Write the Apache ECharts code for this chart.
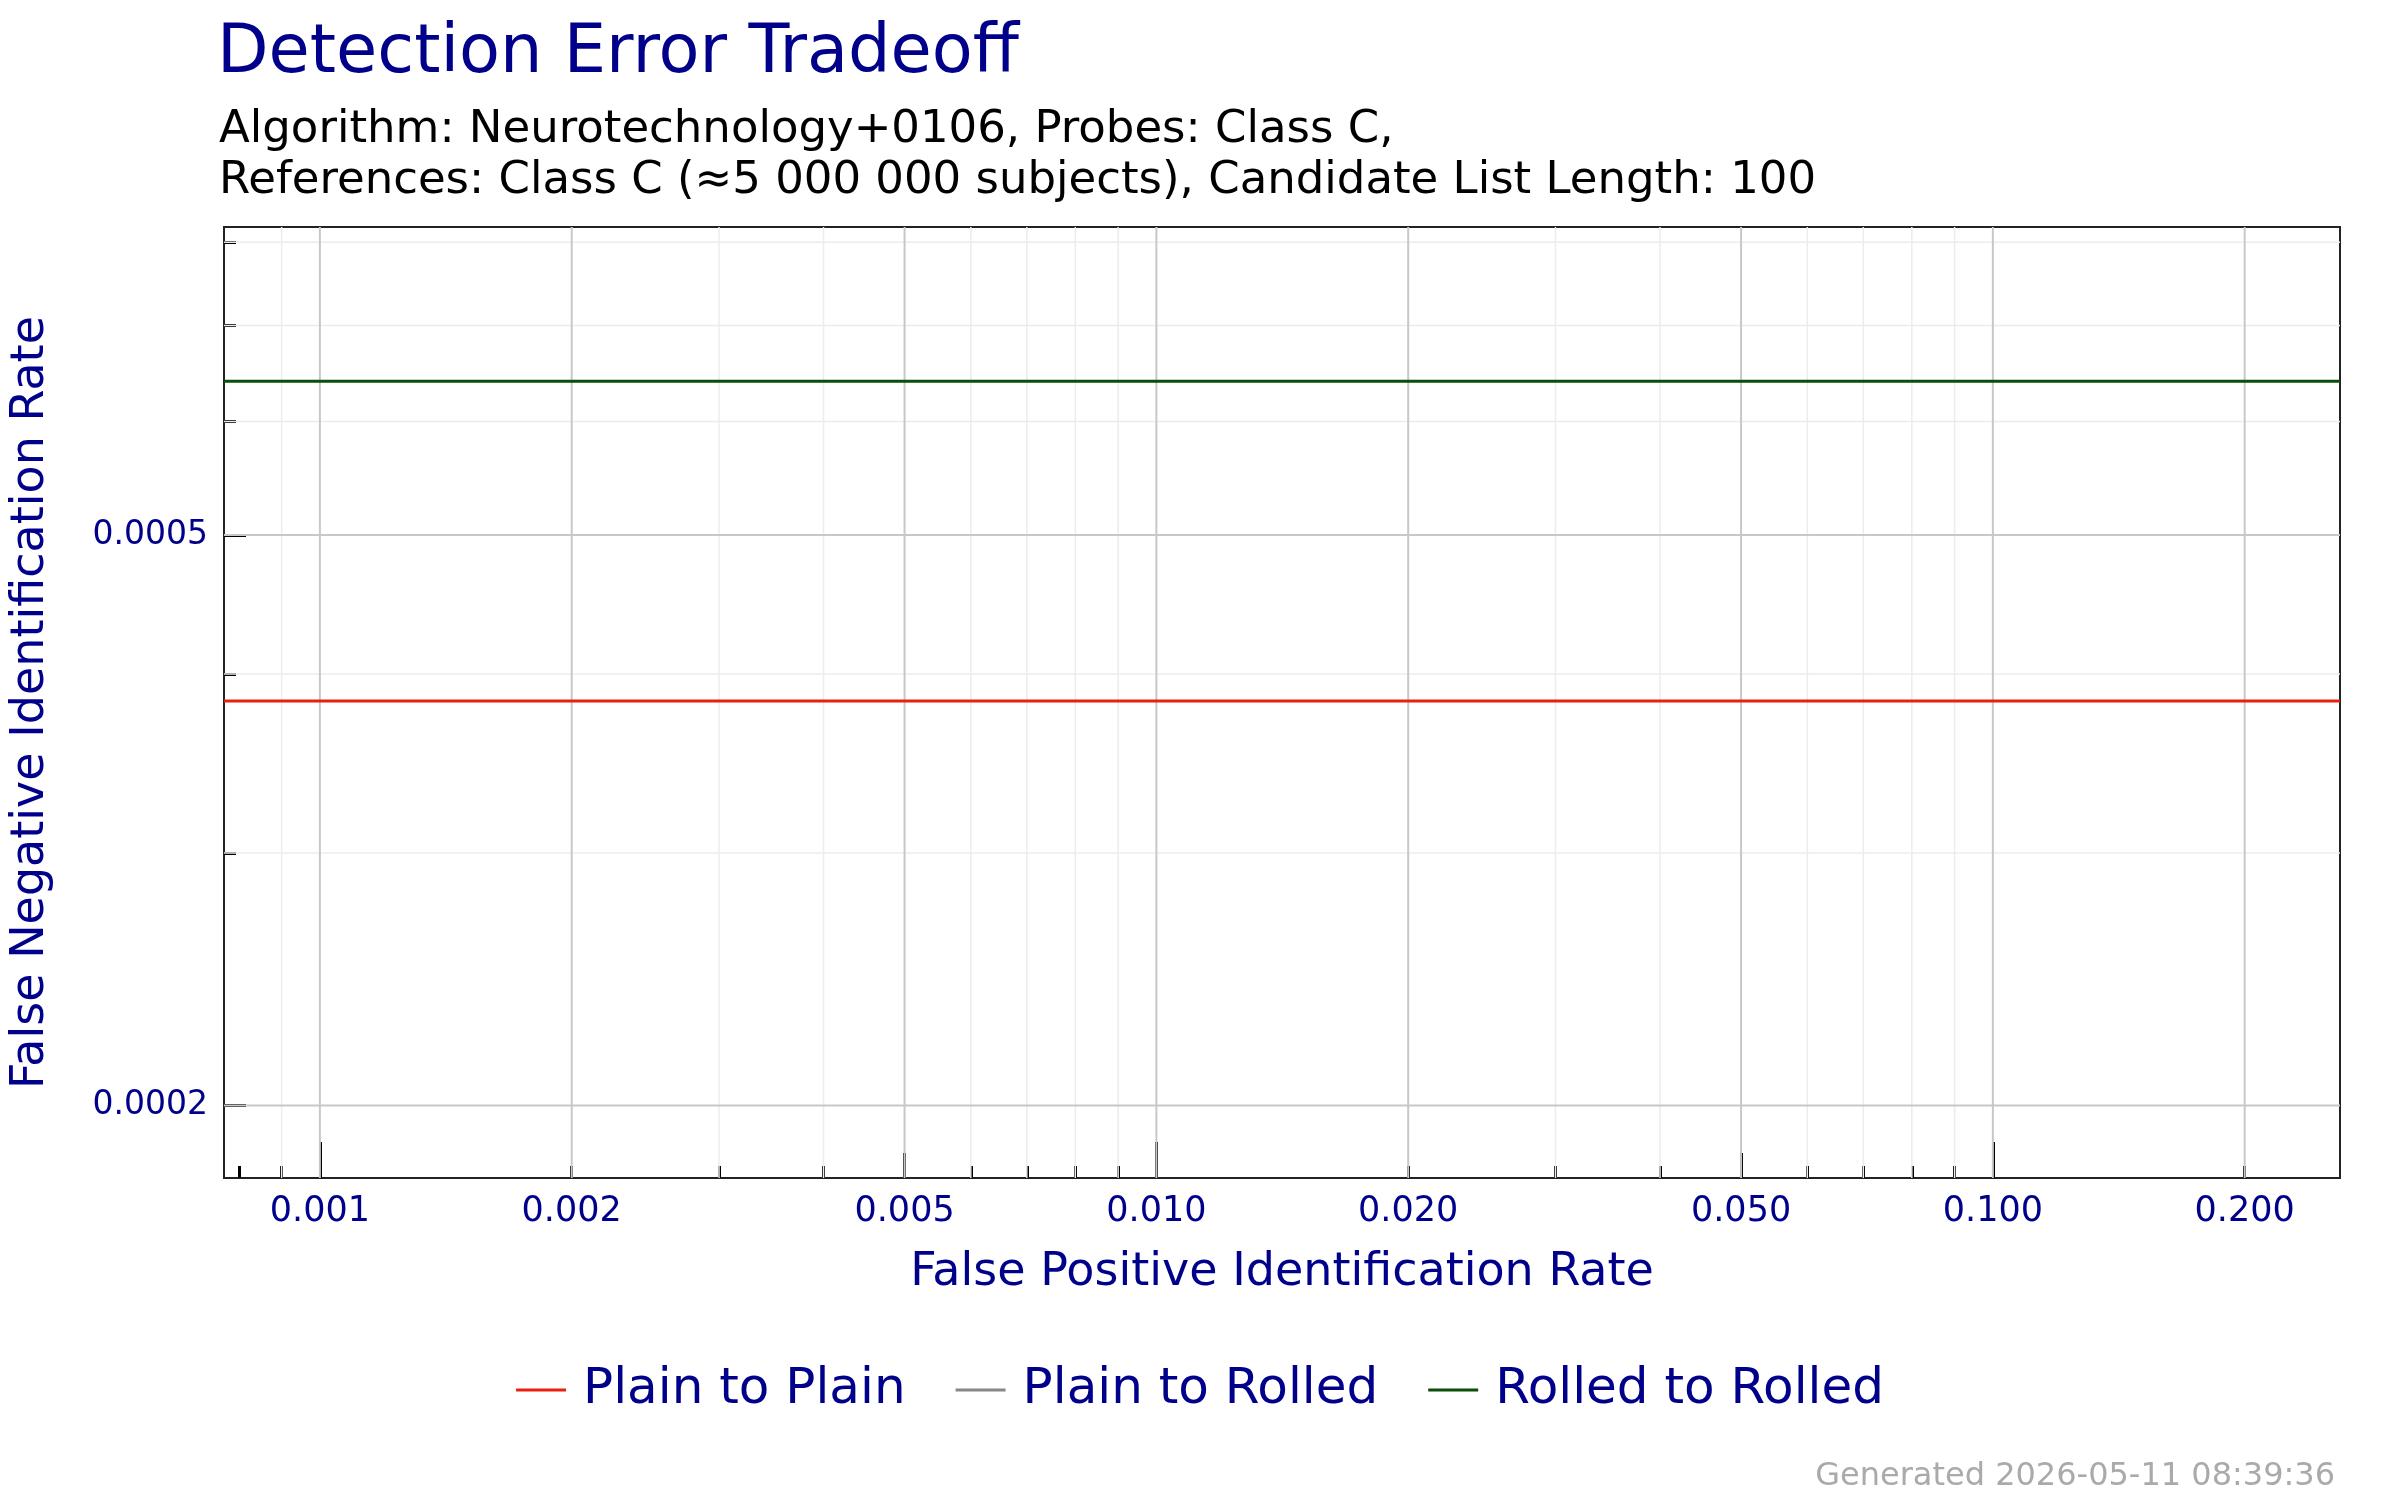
<!DOCTYPE html>
<html><head><meta charset="utf-8">
<script src="https://cdn.jsdelivr.net/npm/echarts@6/dist/echarts.min.js"></script>
<style>html,body{margin:0;padding:0;background:#fff}#c{width:2400px;height:1500px}</style>
</head><body><div id="c"></div>
<script>
const seriesNames = ['Plain to Plain','Plain to Rolled','Rolled to Rolled'];
const seriesColors = ['#e8210f','#888888','#0b4d0b'];
const xRange = [0.000768, 0.26];
const plainToPlain = [[0.000768,0.000383],[0.26,0.000383]];
const plainToRolled = [];
const rolledToRolled = [[0.000768,0.00064],[0.26,0.00064]];
const xLabelTicks = [0.001,0.002,0.005,0.010,0.020,0.050,0.100,0.200];
const xMajorTicks = [0.001,0.01,0.1];
const xMidTicks = [0.005,0.05];
const xMinorTicks = [0.0008,0.0009,0.002,0.003,0.004,0.006,0.007,0.008,0.009,0.02,0.03,0.04,0.06,0.07,0.08,0.09,0.2];
const xMinorGrid = [0.0009,0.003,0.004,0.006,0.007,0.008,0.009,0.03,0.04,0.06,0.07,0.08,0.09];
const yRange = [0.000178, 0.00082];
const yLabelTicks = [0.0002,0.0005];
const yMinorTicks = [0.0003,0.0004,0.0006,0.0007,0.0008];

const F='DejaVu Sans', BLUE='#00008b';
function xAxis(vals,len,labels){return {type:'log',min:xRange[0],max:xRange[1],position:'bottom',
 axisLine:{show:false},splitLine:{show:false},minorTick:{show:false},
 axisTick:{show:true,inside:true,length:len,customValues:vals,lineStyle:{color:'#000',width:3}},
 axisLabel:{show:!!labels,customValues:xLabelTicks,color:BLUE,fontFamily:F,fontSize:35,margin:16,formatter:v=>(+v).toFixed(3)},
 name:labels?'False Positive Identification Rate':'',nameLocation:'middle',nameGap:72,
 nameTextStyle:{color:BLUE,fontFamily:F,fontSize:46}};}
function yAxis(vals,len,labels){return {type:'log',min:yRange[0],max:yRange[1],position:'left',
 axisLine:{show:false},splitLine:{show:false},minorTick:{show:false},
 axisTick:{show:true,inside:true,length:len,customValues:vals,lineStyle:{color:'#000',width:3}},
 axisLabel:{show:!!labels,customValues:yLabelTicks,color:BLUE,fontFamily:F,fontSize:33,margin:16,formatter:v=>(+v).toFixed(4)},
 name:labels?'False Negative Identification Rate':'',nameLocation:'middle',nameGap:170,
 nameTextStyle:{color:BLUE,fontFamily:F,fontSize:46}};}
function gridSeries(vals,isX,color,w){
 return vals.map(v=>({type:'line',silent:true,z:0,showSymbol:false,legendHoverLink:false,
  data:isX?[[v,yRange[0]],[v,yRange[1]]]:[[xRange[0],v],[xRange[1],v]],
  lineStyle:{color:color,width:w},itemStyle:{color:color},tooltip:{show:false}}));
}
const chart=echarts.init(document.getElementById('c'));
chart.setOption({
 animation:false,
 title:[{text:'Detection Error Tradeoff',left:212,top:16,textStyle:{color:BLUE,fontFamily:F,fontSize:67,fontWeight:'normal'}},
  {text:'Algorithm: Neurotechnology+0106, Probes: Class C,\nReferences: Class C (≈5 000 000 subjects), Candidate List Length: 100',left:214,top:100,
   textStyle:{color:'#000',fontFamily:F,fontSize:45,fontWeight:'normal',lineHeight:51}},
  {text:'Generated 2026-05-11 08:39:36',right:60,bottom:2,textStyle:{color:'#aaa',fontFamily:F,fontSize:32,fontWeight:'normal'}}],
 grid:{left:216,right:60,top:227,bottom:322,show:true,borderColor:'#222',borderWidth:2,backgroundColor:'#fff'},
 legend:{bottom:80,left:'center',itemWidth:50,itemHeight:3,itemGap:50,icon:'rect',data:seriesNames,
  textStyle:{color:BLUE,fontFamily:F,fontSize:50,padding:[0,0,0,12]}},
 xAxis:[xAxis(xMajorTicks,36,true),xAxis(xMidTicks,25,false),xAxis(xMinorTicks,12,false)],
 yAxis:[yAxis(yLabelTicks,22,true),yAxis(yMinorTicks,12,false)],
 series:[].concat(
  gridSeries(xMinorGrid,true,'#ececec',1.5),
  gridSeries(yMinorTicks,false,'#ececec',1.5),
  gridSeries(xLabelTicks,true,'#c8c8c8',2),
  gridSeries(yLabelTicks,false,'#c8c8c8',2),
  [{type:'line',name:seriesNames[0],data:plainToPlain,showSymbol:false,color:seriesColors[0],lineStyle:{width:3},z:5},
  {type:'line',name:seriesNames[1],data:plainToRolled,showSymbol:false,color:seriesColors[1],lineStyle:{width:3},z:5},
  {type:'line',name:seriesNames[2],data:rolledToRolled,showSymbol:false,color:seriesColors[2],lineStyle:{width:3},z:5}])
});
</script></body></html>
